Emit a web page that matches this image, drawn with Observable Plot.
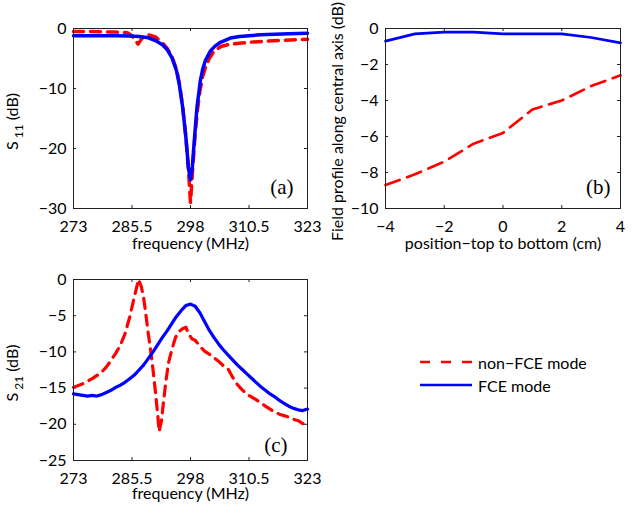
<!DOCTYPE html>
<html>
<head>
<meta charset="utf-8">
<script src="https://cdn.jsdelivr.net/npm/d3@7"></script>
<script src="https://cdn.jsdelivr.net/npm/@observablehq/plot@0.6"></script>
<style>
  html, body { margin: 0; padding: 0; background: #fff; }
  #fig { position: relative; width: 632px; height: 513px; font-family: Lato, sans-serif; color: #000; }
  .panel { position: absolute; }
  .legend-row { position: absolute; display: flex; align-items: center; font-size: 16px; white-space: nowrap; }
  .legend-row svg { margin-right: 6px; }
</style>
</head>
<body>
<div id="fig"></div>
<script>
// ---------- data ----------
const freqTicks = [273, 285.5, 298, 310.5, 323];
const s11Ticks = [-30, -20, -10, 0];
const s21Ticks = [-25, -20, -15, -10, -5, 0];
const positionTicks = [-4, -2, 0, 2, 4];
const fieldTicks = [-10, -8, -6, -4, -2, 0];

const seriesNames = ["non\u2212FCE mode", "FCE mode"];
const panelTags = ["(a)", "(b)", "(c)"];
const xLabels = ["frequency (MHz)", "position\u2212top to bottom (cm)", "frequency (MHz)"];
const yLabels = ["S11 (dB)", "Field profile along central axis (dB)", "S21 (dB)"];

// (a) S11
const s11FceFreq = [273, 276, 279, 282, 285, 287, 289, 290.5, 292, 293, 294, 295, 295.6, 296.3, 297, 297.6, 298, 298.4, 298.7, 299.1, 299.4, 299.8, 300.1, 300.6, 301.2, 302.3, 303.3, 304.4, 306.5, 308.5, 310.5, 313, 316, 319, 323];
const s11FceDb   = [-1.2, -1.2, -1.2, -1.2, -1.25, -1.35, -1.55, -2.0, -2.7, -3.5, -4.8, -7.0, -9.3, -13.0, -18.0, -23.5, -25.2, -23.0, -19.8, -15.8, -13.0, -10.6, -8.7, -6.8, -5.3, -3.7, -2.9, -2.3, -1.6, -1.35, -1.2, -1.05, -0.95, -0.88, -0.8];
const s11NonFreq = [273, 276, 279, 282, 284.5, 285.5, 286.2, 286.8, 287.4, 288, 289, 290.5, 292, 293, 294, 295, 295.6, 296.3, 297, 297.6, 298, 298.5, 299, 299.5, 300, 300.6, 301.2, 302, 303, 304.5, 306, 308, 310.5, 314, 318, 323];
const s11NonDb   = [-0.5, -0.5, -0.55, -0.6, -0.7, -1.2, -2.0, -2.6, -1.9, -1.3, -1.05, -1.4, -2.4, -3.3, -4.6, -6.8, -9.0, -12.8, -18.0, -24.0, -29.0, -23.0, -17.5, -13.5, -10.5, -8.0, -6.5, -5.0, -3.8, -3.0, -2.7, -2.5, -2.3, -2.1, -1.95, -1.8];

// (b) field profile
const positionCm = [-4, -3, -2, -1, 0, 1, 2, 3, 4];
const fieldFce   = [-0.7, -0.3, -0.2, -0.2, -0.3, -0.3, -0.3, -0.5, -0.8];
const fieldNon   = [-8.7, -8.1, -7.4, -6.4, -5.8, -4.5, -4.0, -3.2, -2.6];

// (c) S21
const s21FceFreq = [273, 274, 275, 276, 277, 278, 279, 280, 281, 282, 283, 284, 285, 286, 287, 288, 289, 290, 291, 292, 293, 294, 295, 296, 297, 298, 299, 300, 301, 302, 303, 304, 305, 306, 307, 308, 309, 310, 311, 312, 313, 314, 315, 316, 317, 318, 319, 320, 321, 322, 323];
const s21FceDb   = [-15.8, -15.9, -16.0, -16.1, -16.0, -16.1, -15.9, -15.6, -15.3, -14.9, -14.6, -14.2, -13.7, -13.2, -12.5, -11.8, -10.9, -10.0, -9.0, -8.0, -7.1, -6.1, -5.1, -4.3, -3.6, -3.4, -3.7, -4.6, -5.8, -7.0, -8.0, -8.9, -9.7, -10.4, -11.1, -11.8, -12.4, -13.0, -13.6, -14.2, -14.8, -15.3, -15.8, -16.2, -16.7, -17.1, -17.5, -17.8, -18.0, -18.1, -17.9];
const s21NonFreq = [273, 275, 277, 279, 280, 281, 282, 283, 284, 285, 286, 286.9, 287.5, 288, 288.5, 289, 289.5, 290, 290.5, 291, 291.3, 291.8, 292.3, 292.8, 293.3, 294, 294.8, 295.5, 296.3, 297, 297.7, 298.3, 299, 300, 301, 302, 303, 304, 305, 306, 307, 308, 309, 310, 311, 312, 313, 314, 315, 316, 317, 318, 319, 320, 321, 322, 323];
const s21NonDb   = [-14.9, -14.4, -13.7, -12.8, -12.1, -11.2, -10.2, -9.1, -7.5, -5.2, -2.4, 0, -1.0, -2.6, -5.0, -7.6, -9.9, -12.5, -15.5, -18.7, -21.0, -19.5, -16.5, -13.8, -11.5, -9.7, -8.0, -7.2, -6.8, -6.6, -7.6, -8.2, -8.4, -9.2, -9.9, -10.3, -10.8, -11.3, -11.9, -12.3, -13.5, -14.5, -15.2, -15.8, -16.2, -16.6, -17.0, -17.5, -17.9, -18.3, -18.6, -18.8, -19.0, -19.3, -19.5, -19.9, -20.2];

// ---------- drawing ----------
const RED = "#ff0000", BLUE = "#0000ff", AXIS = "#222";
const rows = (xs, ys) => xs.map((x, i) => ({x, y: ys[i]}));
const fmt = d => String(d).replace("-", "\u2212");
const fig = document.getElementById("fig");

function subscriptLabels(svg) {
  const ns = "http://www.w3.org/2000/svg";
  svg.querySelectorAll("text").forEach(t => {
    const m = /^S(\d\d) \(dB\)$/.exec(t.textContent);
    if (!m) return;
    t.textContent = "";
    const a = document.createElementNS(ns, "tspan"); a.textContent = "S";
    const b = document.createElementNS(ns, "tspan"); b.textContent = m[1];
    b.setAttribute("font-size", "0.75em"); b.setAttribute("dx", "3"); b.setAttribute("dy", "5");
    const c = document.createElementNS(ns, "tspan"); c.textContent = " (dB)"; c.setAttribute("dy", "-5");
    t.append(a, b, c);
  });
}

function panel(o) {
  const iw = o.width - o.mL - o.mR, ih = o.height - o.mT - o.mB;
  const svg = Plot.plot({
    width: o.width, height: o.height,
    marginLeft: o.mL, marginRight: o.mR, marginTop: o.mT, marginBottom: o.mB,
    style: {fontFamily: "Lato, sans-serif", fontSize: "16px", background: "transparent", overflow: "visible", color: "#000"},
    x: {domain: o.xDomain},
    y: {domain: o.yDomain},
    marks: [
      Plot.tickX(o.xTicks, {x: d => d, insetTop: ih - 3, stroke: AXIS}),
      Plot.tickX(o.xTicks, {x: d => d, insetBottom: ih - 3, stroke: AXIS}),
      Plot.tickY(o.yTicks, {y: d => d, insetRight: iw - 3, stroke: AXIS}),
      Plot.tickY(o.yTicks, {y: d => d, insetLeft: iw - 3, stroke: AXIS}),
      Plot.line(o.red, {x: "x", y: "y", stroke: RED, strokeWidth: o.lw, strokeDasharray: o.dash}),
      Plot.line(o.blue, {x: "x", y: "y", stroke: BLUE, strokeWidth: o.lw}),
      Plot.frame({stroke: AXIS}),
      Plot.axisX(o.xTicks, {tickSize: 0, tickPadding: 12, tickFormat: fmt, label: null}),
      Plot.axisY(o.yTicks, {tickSize: 0, tickPadding: o.yPad, tickFormat: fmt, label: null}),
      Plot.text([o.xLabel], {text: d => d, frameAnchor: "bottom", dy: o.xLabelDy, lineAnchor: "bottom", textAnchor: "middle"}),
      Plot.text([o.yLabel], {text: d => d, frameAnchor: "left", rotate: -90, dx: o.yLabelDx, dy: 3, lineAnchor: "bottom", textAnchor: "middle"}),
      Plot.text([o.tag], {text: d => d, frameAnchor: "bottom-right", dx: o.tagDx, dy: o.tagDy, textAnchor: "end", lineAnchor: "bottom", fontFamily: "'Liberation Serif', serif", fontSize: 21})
    ]
  });
  subscriptLabels(svg);
  const wrap = document.createElement("div");
  wrap.className = "panel";
  wrap.style.left = o.left + "px";
  wrap.style.top = o.top + "px";
  wrap.appendChild(svg);
  fig.appendChild(wrap);
}

panel({
  left: 0, top: 0, width: 320, height: 262, mL: 73, mR: 13, mT: 28, mB: 54,
  xDomain: [273, 323], yDomain: [-30, 0], xTicks: freqTicks, yTicks: s11Ticks,
  red: rows(s11NonFreq, s11NonDb), blue: rows(s11FceFreq, s11FceDb), lw: 3.5, dash: "10,7",
  xLabel: xLabels[0], yLabel: yLabels[0], yLabelDx: -56, xLabelDy: 40, yPad: 7,
  tag: panelTags[0], tagDx: -14, tagDy: -15
});

panel({
  left: 320, top: 0, width: 312, height: 262, mL: 65, mR: 12, mT: 28, mB: 54,
  xDomain: [-4, 4], yDomain: [-10, 0], xTicks: positionTicks, yTicks: fieldTicks,
  red: rows(positionCm, fieldNon), blue: rows(positionCm, fieldFce), lw: 2.7, dash: "15,8",
  xLabel: xLabels[1], yLabel: yLabels[1], yLabelDx: -43, xLabelDy: 40, yPad: 7,
  tag: panelTags[1], tagDx: -10, tagDy: -15
});

panel({
  left: 0, top: 260, width: 320, height: 253, mL: 73, mR: 13, mT: 19, mB: 53,
  xDomain: [273, 323], yDomain: [-25, 0], xTicks: freqTicks, yTicks: s21Ticks,
  red: rows(s21NonFreq, s21NonDb), blue: rows(s21FceFreq, s21FceDb), lw: 3.2, dash: "10,7",
  xLabel: xLabels[2], yLabel: yLabels[2], yLabelDx: -56, xLabelDy: 38, yPad: 7,
  tag: panelTags[2], tagDx: -20, tagDy: -9
});

// legend
const legendStyles = [{color: RED, dash: "10,11"}, {color: BLUE, dash: null}];
const legendTops = [352, 375];
seriesNames.forEach((name, i) => {
  const row = document.createElement("div");
  row.className = "legend-row";
  row.style.left = "420px";
  row.style.top = legendTops[i] + "px";
  row.style.height = "20px";
  const s = legendStyles[i];
  row.innerHTML = `<svg width="52" height="6"><line x1="0" y1="3" x2="52" y2="3" stroke="${s.color}" stroke-width="2.6" ${s.dash ? `stroke-dasharray="${s.dash}"` : ""}/></svg><span>${name}</span>`;
  fig.appendChild(row);
});
</script>
</body>
</html>
